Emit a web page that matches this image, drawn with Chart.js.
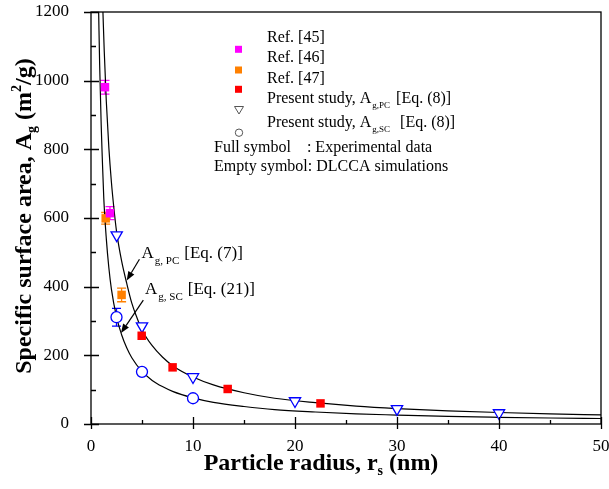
<!DOCTYPE html>
<html>
<head>
<meta charset="utf-8">
<script src="https://cdn.jsdelivr.net/npm/chart.js@4.4.0/dist/chart.umd.min.js"></script>
<style>
  html, body { margin: 0; padding: 0; background: #fff; }
</style>
</head>
<body>
<canvas id="myChart" width="609" height="489"></canvas>
<script>
// experimental data (full symbols)
const ref45R = [1.37, 1.86];
const ref45A = [981, 614];
const ref45Err = [20, 19];
const ref46R = [1.44, 3.0];
const ref46A = [599, 376];
const ref46Err = [17, 20];
const ref47R = [4.97, 8.0, 13.4, 22.5];
const ref47A = [257, 165, 102, 60];

// DLCCA simulations (empty symbols)
const pcR = [2.52, 5.0, 10.0, 20.0, 30.0, 40.0];
const pcA = [550, 285, 137, 67, 44, 32];
const scR = [2.5, 5.0, 10.0];
const scA = [311, 152, 75];
const scErr = [26, 0, 0];

// model curves
const curvePcR = [1.17, 1.3, 1.5, 1.75, 2.0, 2.25, 2.5, 3.0, 3.5, 4.0, 4.5, 5, 6, 7, 8, 10, 12, 15, 18, 22, 26, 30, 35, 40, 45, 50];
const curvePcA = [1200, 1085, 940, 805, 705, 627, 562, 475, 410, 352, 310, 274, 228, 195, 170, 137, 114, 91, 75, 62, 52, 45, 38.5, 33.5, 29.5, 26.5];
const curveScR = [0.75, 0.85, 1.0, 1.1, 1.25, 1.5, 1.75, 2.0, 2.5, 3, 3.5, 4, 5, 6, 7, 8, 10, 12, 15, 18, 22, 26, 30, 35, 40, 45, 50];
const curveScA = [1200, 1045, 870, 780, 660, 540, 455, 393, 312, 260, 222, 193, 153, 127, 109, 95, 76, 63, 51, 42, 35, 29.5, 26, 22, 19.5, 17.5, 16];

// axis ticks
const xTicks = [0, 10, 20, 30, 40, 50];
const yTicks = [0, 200, 400, 600, 800, 1000, 1200];

const SERIF = "'Liberation Serif', 'Times New Roman', serif";

function pts(xs, ys) {
  return xs.map((v, i) => ({ x: v, y: ys[i] }));
}

// draws a run of text pieces, returns total width
function richText(ctx, parts, x, y, measureOnly) {
  let cx = x;
  parts.forEach(p => {
    ctx.font = (p.bold ? "bold " : "") + p.size + "px " + SERIF;
    if (!measureOnly) ctx.fillText(p.t, cx, y + (p.dy || 0));
    cx += ctx.measureText(p.t).width + (p.gap || 0);
  });
  return cx - x;
}

function arrow(ctx, x1, y1, x2, y2) {
  const ang = Math.atan2(y2 - y1, x2 - x1);
  const hl = 9, hw = 3.5;
  ctx.beginPath();
  ctx.moveTo(x1, y1);
  ctx.lineTo(x2 - Math.cos(ang) * hl, y2 - Math.sin(ang) * hl);
  ctx.lineWidth = 1.2;
  ctx.strokeStyle = "#000";
  ctx.stroke();
  ctx.beginPath();
  ctx.moveTo(x2, y2);
  ctx.lineTo(x2 - Math.cos(ang) * hl - Math.sin(ang) * hw, y2 - Math.sin(ang) * hl + Math.cos(ang) * hw);
  ctx.lineTo(x2 - Math.cos(ang) * hl + Math.sin(ang) * hw, y2 - Math.sin(ang) * hl - Math.cos(ang) * hw);
  ctx.closePath();
  ctx.fillStyle = "#000";
  ctx.fill();
}

function errorBars(ctx, xs, ys, errs, xScale, yScale, color) {
  ctx.strokeStyle = color;
  ctx.lineWidth = 1.3;
  xs.forEach((v, i) => {
    if (!errs[i]) return;
    const px = xScale.getPixelForValue(v);
    const top = yScale.getPixelForValue(ys[i] + errs[i]);
    const bot = yScale.getPixelForValue(ys[i] - errs[i]);
    ctx.beginPath();
    ctx.moveTo(px, top); ctx.lineTo(px, bot);
    ctx.moveTo(px - 4.5, top); ctx.lineTo(px + 4.5, top);
    ctx.moveTo(px - 4.5, bot); ctx.lineTo(px + 4.5, bot);
    ctx.stroke();
  });
}

const overlay = {
  id: "overlay",
  beforeDatasetsDraw(chart) {
    const ctx = chart.ctx, xs = chart.scales.x, ys = chart.scales.y;
    ctx.save();
    errorBars(ctx, ref45R, ref45A, ref45Err, xs, ys, "#ff00ff");
    errorBars(ctx, ref46R, ref46A, ref46Err, xs, ys, "#ff8000");
    errorBars(ctx, scR, scA, scErr, xs, ys, "#0000ff");
    ctx.restore();
  },
  afterDraw(chart) {
    const ctx = chart.ctx, xs = chart.scales.x, ys = chart.scales.y;
    const a = chart.chartArea;
    ctx.save();
    // frame
    ctx.strokeStyle = "#000";
    ctx.lineWidth = 1.3;
    ctx.strokeRect(a.left, a.top, a.right - a.left, a.bottom - a.top);
    // ticks
    ctx.beginPath();
    for (let v = 0; v <= 50; v += 5) {
      const px = Math.round(xs.getPixelForValue(v)) + 0.5;
      const major = v % 10 === 0;
      ctx.moveTo(px, a.bottom + (major ? 5 : 0));
      ctx.lineTo(px, a.bottom - (major ? 7 : 4));
    }
    for (let v = 0; v <= 1200; v += 100) {
      const py = Math.round(ys.getPixelForValue(v)) + 0.5;
      const major = v % 200 === 0;
      ctx.moveTo(a.left - (major ? 7 : 0), py);
      ctx.lineTo(a.left + (major ? 8 : 5), py);
    }
    ctx.stroke();

    ctx.fillStyle = "#000";
    ctx.textBaseline = "alphabetic";
    ctx.textAlign = "left";

    // x axis title
    const xt = [
      { t: "Particle radius, r", size: 24, bold: true },
      { t: "s", size: 14, bold: true, dy: 5 },
      { t: " (nm)", size: 24, bold: true }
    ];
    const xw = richText(ctx, xt, 0, 0, true);
    richText(ctx, xt, 321 - xw / 2, 470);

    // y axis title
    const yt = [
      { t: "Specific surface area, A", size: 24, bold: true },
      { t: "g", size: 14, bold: true, dy: 5 },
      { t: " (m", size: 24, bold: true },
      { t: "2", size: 14, bold: true, dy: -10 },
      { t: "/g)", size: 24, bold: true }
    ];
    const yw = richText(ctx, yt, 0, 0, true);
    ctx.save();
    ctx.translate(31, (a.top + a.bottom) / 2 - 2);
    ctx.rotate(-Math.PI / 2);
    richText(ctx, yt, -yw / 2, 0);
    ctx.restore();

    // curve annotations
    richText(ctx, [
      { t: "A", size: 17, gap: 1 },
      { t: "g, PC", size: 11, dy: 6, gap: 5 },
      { t: "[Eq. (7)]", size: 17 }
    ], xs.getPixelForValue(4.96), ys.getPixelForValue(483));
    arrow(ctx, xs.getPixelForValue(4.75), ys.getPixelForValue(480),
      xs.getPixelForValue(3.5), ys.getPixelForValue(418));
    richText(ctx, [
      { t: "A", size: 17, gap: 1 },
      { t: "g, SC", size: 11, dy: 6, gap: 5 },
      { t: "[Eq. (21)]", size: 17 }
    ], xs.getPixelForValue(5.3), ys.getPixelForValue(379));
    arrow(ctx, xs.getPixelForValue(5.13), ys.getPixelForValue(361),
      xs.getPixelForValue(2.94), ys.getPixelForValue(265));

    // legend
    const lx = 267;
    richText(ctx, [{ t: "Ref. [45]", size: 16 }], lx, 41.7);
    richText(ctx, [{ t: "Ref. [46]", size: 16 }], lx, 62.3);
    richText(ctx, [{ t: "Ref. [47]", size: 16 }], lx, 83.3);
    richText(ctx, [
      { t: "Present study, A", size: 16, gap: 1 },
      { t: "g,PC", size: 9, dy: 5, gap: 6 },
      { t: "[Eq. (8)]", size: 16 }
    ], lx, 103.3);
    richText(ctx, [
      { t: "Present study, A", size: 16, gap: 1 },
      { t: "g,SC", size: 9, dy: 5, gap: 10 },
      { t: "[Eq. (8)]", size: 16 }
    ], lx, 127.3);
    richText(ctx, [{ t: "Full symbol    : Experimental data", size: 16 }], 214, 152.3);
    richText(ctx, [{ t: "Empty symbol: DLCCA simulations", size: 16 }], 214, 170.7);

    const sq = (cy, color) => { ctx.fillStyle = color; ctx.fillRect(238.5 - 3.5, cy - 3.5, 7, 7); };
    sq(49.3, "#ff00ff");
    sq(70, "#ff8000");
    sq(89.3, "#ff0000");
    ctx.strokeStyle = "#555";
    ctx.lineWidth = 1;
    ctx.beginPath();
    ctx.moveTo(234.5, 106.5); ctx.lineTo(243.5, 106.5); ctx.lineTo(239, 114); ctx.closePath();
    ctx.stroke();
    ctx.beginPath();
    ctx.arc(239, 132.7, 3.7, 0, Math.PI * 2);
    ctx.stroke();
    ctx.restore();
  }
};

window.onload = function () {
  const ctx = document.getElementById("myChart").getContext("2d");
  new Chart(ctx, {
    type: "scatter",
    data: {
      datasets: [
        { label: "Ref. [45]", data: pts(ref45R, ref45A), pointStyle: "rect", pointRadius: 6,
          backgroundColor: "#ff00ff", borderColor: "#ff00ff", borderWidth: 0, order: 1 },
        { label: "Ref. [46]", data: pts(ref46R, ref46A), pointStyle: "rect", pointRadius: 6,
          backgroundColor: "#ff8000", borderColor: "#ff8000", borderWidth: 0, order: 1 },
        { label: "Ref. [47]", data: pts(ref47R, ref47A), pointStyle: "rect", pointRadius: 6,
          backgroundColor: "#ff0000", borderColor: "#ff0000", borderWidth: 0, order: 1 },
        { label: "Present study, Ag,PC [Eq. (8)]", data: pts(pcR, pcA), pointStyle: "triangle", rotation: 180,
          pointRadius: 6.5, backgroundColor: "#ffffff", borderColor: "#0000ff", borderWidth: 1.3, order: 1 },
        { label: "Present study, Ag,SC [Eq. (8)]", data: pts(scR, scA), pointStyle: "circle",
          pointRadius: 5.5, backgroundColor: "#ffffff", borderColor: "#0000ff", borderWidth: 1.3, order: 1 },
        { label: "Ag,PC [Eq. (7)]", data: pts(curvePcR, curvePcA), showLine: true, pointRadius: 0,
          borderColor: "#000", borderWidth: 1.2, cubicInterpolationMode: "monotone", order: 10 },
        { label: "Ag,SC [Eq. (21)]", data: pts(curveScR, curveScA), showLine: true, pointRadius: 0,
          borderColor: "#000", borderWidth: 1.2, cubicInterpolationMode: "monotone", order: 10 }
      ]
    },
    options: {
      responsive: false,
      animation: false,
      layout: { padding: { top: 12, right: 8, left: 0, bottom: 0 } },
      plugins: { legend: { display: false }, tooltip: { enabled: false } },
      scales: {
        x: {
          type: "linear", min: 0, max: 50,
          afterFit(scale) { scale.height = 65; scale.paddingLeft = 0; scale.paddingRight = 0; },
          afterBuildTicks(scale) { scale.ticks = xTicks.map(v => ({ value: v })); },
          grid: { display: false }, border: { display: false },
          ticks: { font: { family: SERIF, size: 17 }, color: "#000", padding: 4, maxRotation: 0,
            callback: v => String(v) }
        },
        y: {
          type: "linear", min: 0, max: 1200,
          afterFit(scale) { scale.width = 91; scale.paddingTop = 0; scale.paddingBottom = 0; },
          afterBuildTicks(scale) { scale.ticks = yTicks.map(v => ({ value: v })); },
          grid: { display: false }, border: { display: false },
          ticks: { font: { family: SERIF, size: 17 }, color: "#000", padding: 14,
            callback: v => String(v) }
        }
      }
    },
    plugins: [overlay]
  });
};
</script>
</body>
</html>
